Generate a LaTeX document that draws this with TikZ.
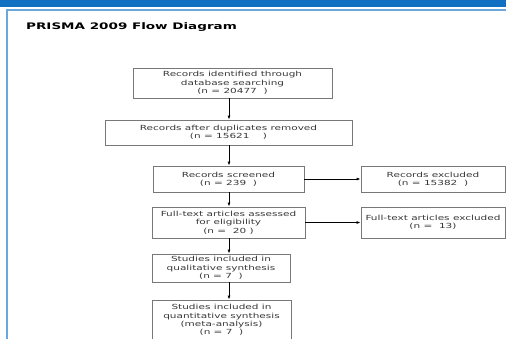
\documentclass[tikz,border=0pt]{standalone}
\usepackage{fontspec}
\usepackage{tikz}
\usetikzlibrary{arrows.meta}
\newfontfamily\prismafont[FakeStretch=1.5]{DejaVu Sans}
\definecolor{barblue}{RGB}{17,112,194}
\definecolor{edgeblue}{RGB}{105,167,220}
\definecolor{boxgray}{RGB}{120,120,120}
\definecolor{textgray}{RGB}{55,55,55}

\begin{document}
\begin{tikzpicture}[x=1pt,y=1pt]
\tikzstyle{every node}+=[inner sep=0pt]
\tikzstyle{box}=[draw=boxgray, line width=0.8pt, rectangle, align=center, text=textgray,
  font=\prismafont\fontsize{7}{8.3}\selectfont]
\tikzstyle{arr}=[black, line width=0.8pt, -{Latex[length=4pt,width=3pt]}]
\useasboundingbox (0,0) rectangle (506,-338);
% header and panel
\fill [barblue] (0,0) rectangle (506,-7);
\draw [edgeblue, line width=1.5pt] (7,-345) -- (7,-10) -- (515,-10);
\node [anchor=base west, text=black, font=\prismafont\bfseries\fontsize{9}{10}\selectfont] (title) at (26,-29) {PRISMA 2009 Flow Diagram};
% boxes
\node [box, minimum width=199pt, minimum height=30pt] (ident) at (232.5,-83) {Records identified through\\database searching\\(n = 20477\ \ )};
\node [box, minimum width=247pt, minimum height=25pt] (dup) at (228.5,-132.5) {Records after duplicates removed\\(n = 15621\ \ \ \ )};
\node [box, minimum width=151pt, minimum height=26pt] (screen) at (228.5,-179) {Records screened\\(n = 239\ \ )};
\node [box, minimum width=144pt, minimum height=26pt] (excl) at (433,-179) {Records excluded\\(n = 15382\ \ )};
\node [box, minimum width=153pt, minimum height=31pt] (full) at (228.5,-222.5) {Full-text articles assessed\\for eligibility\\(n =\ \ 20 )};
\node [box, minimum width=144pt, minimum height=31pt] (fexcl) at (433,-222.5) {Full-text articles excluded\\(n =\ \ 13)};
\node [box, minimum width=138pt, minimum height=28pt] (qual) at (221,-268) {Studies included in\\qualitative synthesis\\(n = 7\ \ )};
\node [box, minimum width=139pt, minimum height=40pt] (quant) at (221.5,-320) {Studies included in\\quantitative synthesis\\(meta-analysis)\\(n = 7\ \ )};
% arrows
\coordinate (col) at (229,0);
\draw [arr] (ident.south -| col) -- (dup.north -| col);
\draw [arr] (dup.south -| col) -- (screen.north -| col);
\draw [arr] (screen.south -| col) -- (full.north -| col);
\draw [arr] (full.south -| col) -- (qual.north -| col);
\draw [arr] (qual.south -| col) -- (quant.north -| col);
\draw [arr] (screen.east) -- (excl.west);
\draw [arr] (full.east) -- (fexcl.west);
\end{tikzpicture}
\end{document}
